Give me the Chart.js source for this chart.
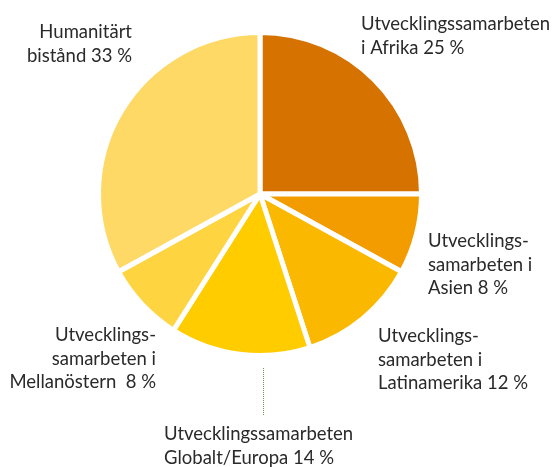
<!DOCTYPE html>
<html>
<head>
<meta charset="utf-8">
<script src="https://cdn.jsdelivr.net/npm/chart.js@4.4.1/dist/chart.umd.min.js"></script>
<style>
  html, body { margin: 0; padding: 0; background: #fff; }
  #wrap { width: 556px; height: 467px; position: relative; }
</style>
</head>
<body>
<div id="wrap"><canvas id="pieChart" width="556" height="467"></canvas></div>
<script>
const categories = [
  'Utvecklingssamarbeten i Afrika',
  'Utvecklingssamarbeten i Asien',
  'Utvecklingssamarbeten i Latinamerika',
  'Utvecklingssamarbeten Globalt/Europa',
  'Utvecklingssamarbeten i Mellanöstern',
  'Humanitärt bistånd'
];
const shares = [25, 8, 12, 14, 8, 33];
const sliceColors = ['#D57200', '#F39C00', '#FAB800', '#FFCC00', '#FED440', '#FED966'];

// label text as it is broken in the picture
const labelLines = [
  ['Utvecklingssamarbeten', 'i Afrika 25 %'],
  ['Utvecklings-', 'samarbeten i', 'Asien 8 %'],
  ['Utvecklings-', 'samarbeten i', 'Latinamerika 12 %'],
  ['Utvecklingssamarbeten', 'Globalt/Europa 14 %'],
  ['Utvecklings-', 'samarbeten i', 'Mellanöstern  8 %'],
  ['Humanitärt', 'bistånd 33 %']
];
// x, first baseline, alignment
const labelPos = [
  [361, 30, 'left'],
  [428, 247, 'left'],
  [378, 342, 'left'],
  [164, 440, 'left'],
  [156, 341, 'right'],
  [132, 38, 'right']
];

const pieLabels = {
  id: 'pieLabels',
  afterDraw(chart) {
    const ctx = chart.ctx;
    ctx.save();
    ctx.font = '18.5px Lato';
    ctx.fillStyle = '#2a2a2a';
    ctx.textBaseline = 'alphabetic';
    labelLines.forEach((lines, i) => {
      const [x, y, align] = labelPos[i];
      ctx.textAlign = align;
      lines.forEach((t, j) => ctx.fillText(t, x, y + j * 23.5));
    });
    // dotted leader under the Globalt/Europa slice
    ctx.strokeStyle = '#6f9a4a';
    ctx.lineWidth = 1;
    ctx.setLineDash([1, 1]);
    ctx.beginPath();
    ctx.moveTo(263.5, 368);
    ctx.lineTo(263.5, 415);
    ctx.stroke();
    ctx.restore();
  }
};

new Chart(document.getElementById('pieChart').getContext('2d'), {
  type: 'pie',
  data: {
    labels: categories,
    datasets: [{
      data: shares,
      backgroundColor: sliceColors,
      borderColor: '#ffffff',
      borderWidth: 5
    }]
  },
  options: {
    responsive: false,
    animation: false,
    events: [],
    layout: { padding: { top: 30, bottom: 109, left: 96, right: 132 } },
    plugins: {
      legend: { display: false },
      tooltip: { enabled: false }
    }
  },
  plugins: [pieLabels]
});
</script>
</body>
</html>
